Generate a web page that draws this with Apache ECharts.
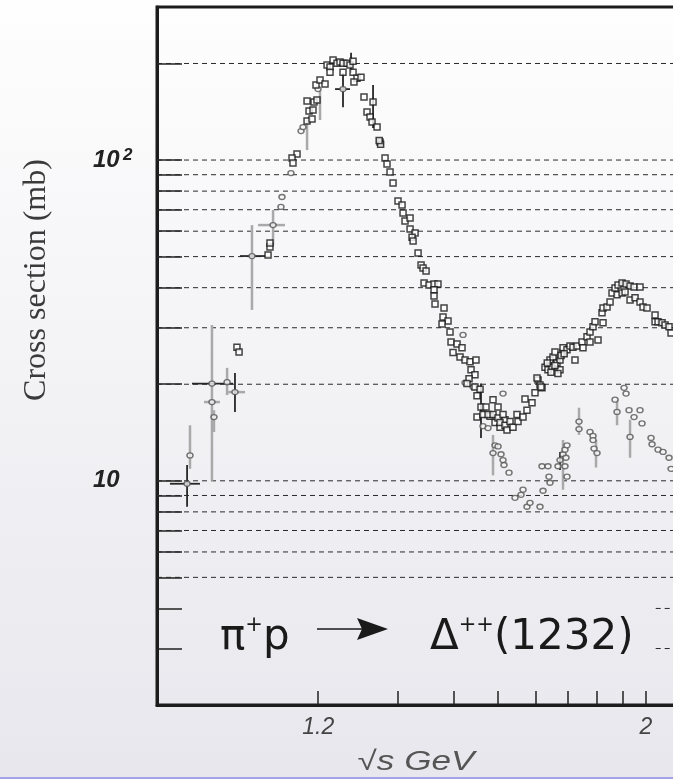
<!DOCTYPE html>
<html>
<head>
<meta charset="utf-8">
<script src="https://cdn.jsdelivr.net/npm/echarts@6/dist/echarts.min.js"></script>
<style>
html,body{margin:0;padding:0;}
#chart{width:673px;height:779px;}
</style>
</head>
<body>
<div id="chart"></div>
<script>
// ---- Axis data ----
// Horizontal axis is log10 of the pion lab momentum p (GeV/c); ticks are labelled in sqrt(s) (GeV)
const X_MIN = 0.1, X_MAX = 2.416;
const Y_MIN = 2, Y_MAX = 300;
const sqrtSTicks = [1.2, 1.3, 1.4, 1.5, 1.6, 1.7, 1.8, 1.9, 2.0];
const sqrtSLabelValues = [1.2, 2.0];
const sqrtSLabelTexts = ['1.2', '2'];
const yTickValues = [3, 4, 5, 6, 7, 8, 9, 10, 20, 30, 40, 50, 60, 70, 80, 90, 100, 200];
const yGridValues = [5, 6, 7, 8, 9, 10, 20, 30, 40, 50, 60, 70, 80, 90, 100, 200];
const yGridPartialValues = [3, 4];
const boxEndP = 1.74;
const yLabelValues = [10, 100];

// ---- Series data: p_lab (GeV/c), cross section (mb) ----
const totalP = [0.1581,0.1600,0.1889,0.1910,0.1910,0.2230,0.2167,0.2179,
0.2362,0.2430,0.2389,0.2444,0.2362,0.2458,0.2500,0.2486,0.2544,0.2618,
0.2649,0.2694,0.2741,0.2804,0.2853,0.2902,0.2970,0.3021,0.3074,0.2694,0.2902,0.3074,
0.3144,0.3217,0.3090,0.3273,0.3447,0.3330,0.3388,0.3427,0.3527,0.3588,0.3600,0.3570,0.3692,0.3734,0.3799,0.3865,0.3977,0.4070,0.4093,0.4140,0.4261,0.4261,0.4385,0.4310,0.4335,0.4461,0.4538,0.4590,0.4670,0.4617,0.4750,0.4888,0.5000,0.4888,0.4888,0.4916,0.5176,0.5146,0.5296,0.5117,0.5357,0.5388,0.5577,0.5738,0.5450,0.5673,0.5838,0.6007,0.6216,0.6042,0.6180,0.5973,0.5904,0.6180,0.6362,0.6252,0.6397,0.6583,0.6252,0.6471,0.6736,0.6853,0.7052,0.6932,0.7133,0.7340,
0.6660,0.6853,0.7052,0.7257,0.7133,0.7340,0.7553,0.7424,0.7684,0.7908,0.7862,0.8137,0.8325,0.8231,0.8567,0.8716,0.8868,0.8969,0.9073,0.8817,0.9021,
0.9230,0.9389,0.9607,0.9497,0.9663,0.9773,0.9886,1.0058,1.0058,1.0232,1.0232,1.0469,1.0651,1.0834,1.0959,1.1086,1.1409,1.1474,1.1741,1.1944,1.1944,1.2152,1.2292,1.2504,1.2868,1.2794,1.2868,1.3166,1.3396,1.3549,1.3785,1.4025,1.4350,1.4683,1.5022,1.5371,1.5906,1.3945,1.4350,1.4599,1.5022,1.5459,1.5906,1.6183,1.6556,1.7335,1.7335,1.7636,1.8044,1.8358,1.8783,1.8999,
0.935,0.955,0.977,0.994,1.012,1.030];
const totalSigma = [26.1,25.2,50.6,53.6,55.1,104.4,101.4,97.9,
132.3,134.2,142.1,143.2,152.7,151.6,153.8,171.3,177.5,172.5,
197.7,194.9,204.9,200.5,202.0,200.5,200.5,197.7,203.4,187.9,187.9,187.9,
180.0,181.3,175.0,157.1,151.6,141.1,136.1,131.3,126.7,113.8,112,115,101.4,97.2,91.8,84.8,74.5,72.4,68.4,64.6,66.0,61.0,59.2,57.5,55.9,51.3,47.1,46.1,45.1,41.4,40.8,41.1,41.1,39.4,37.7,35.6,34.6,32.4,31.5,30.8,29.1,27.1,26.7,26.0,25.1,24.3,23.8,23.5,23.8,22.2,21.4,20.8,20.1,19.6,19.3,18.4,17.0,17.0,15.8,16.1,15.9,17.9,17.0,15.2,14.7,15.5,
16.1,16.1,15.7,16.1,15.2,14.9,15.3,14.4,14.7,15.3,16.1,15.8,16.6,18.0,17.5,18.8,20.6,19.9,19.5,20.9,19.6,
22.6,22.2,22.6,23.8,24.3,25.2,23.3,22.2,23.8,25.1,26.0,25.6,26.3,26.1,23.8,26.3,27.1,26.0,28.1,27.1,29.1,30.2,31.3,27.5,31.1,33.4,34.6,34.8,36.1,38.5,39.9,40.8,41.4,41.1,40.5,40.2,40.2,38.0,38.5,38.8,36.6,37.2,36.1,34.8,34.6,32.9,31.3,31.3,31.1,30.6,30.2,28.9,
23.3,21.8,22.9,21.6,24.6,24.9];

const elasticP = [0.1188,0.1208,0.1370,0.1386,0.1494,0.1370,0.1563,0.1723,0.1944,0.2034,0.2046,0.2154,0.2282,0.2308,0.2515,0.2902,
0.5771,0.5838,0.6112,0.6471,0.6660,0.7257,
0.6932,0.7052,0.6853,0.7174,0.7257,0.7298,0.7510,0.8137,0.8045,0.7773,0.8325,0.8470,0.8969,0.9073,0.9389,0.9443,0.9497,0.9125,0.9943,1.0058,1.0232,1.0349,1.0469,1.0409,1.0349,1.0469,1.1214,1.1214,1.1944,1.2152,1.2152,1.2222,1.2433,1.3785,1.3945,1.4515,1.4683,1.4936,1.5371,1.5906,1.5022,1.6090,1.6941,1.7039,1.7636,1.8148,1.8783,1.8999];
const elasticSigma = [9.79,12.0,20.1,15.8,20.3,17.6,18.9,50.2,62.7,71.4,76.7,91.1,123.1,126.7,166.4,166.4,
28.5,20.2,19.6,14.8,14.6,18.7,
12.9,12.8,12.2,12.1,11.6,11.2,10.6,9.38,9.04,8.85,8.30,8.54,8.30,11.1,11.1,10.3,9.86,9.31,11.1,11.6,12.1,12.5,12.9,11.8,11.1,10.3,15.3,14.5,14.2,13.8,13.4,12.6,12.2,17.9,16.4,19.5,18.7,16.6,15.8,16.6,13.7,15.1,13.6,13.0,12.5,12.3,11.8,10.9];

// error bars
const darkBarP  = [0.1188,0.1563,0.2902,0.3039,0.3447,0.6397,1.0058];
const darkBarLo = [8.30,16.4,146.2,187,125.8,13.6,10.8];
const darkBarHi = [11.2,21.7,186.6,216,171.3,20.1,12.3];
const grayBarP  = [0.1208,0.1370,0.1386,0.1494,0.1723,0.1944,0.2362,0.2544,0.6853,1.0232,1.1214,1.2362,1.3945,1.5022];
const grayBarLo = [10.9,10.0,14.2,18.5,34.1,54.4,107.4,133.3,10.4,9.38,13.9,11.0,14.9,11.8];
const grayBarHi = [14.9,30.6,16.6,22.5,62.7,69.9,133.3,165.2,13.9,13.4,16.9,13.4,17.9,15.5];
const darkHBarSigma = [9.79,20.1,50.2,166.4];
const darkHBarLo = [0.1077,0.1222,0.1609,0.2773];
const darkHBarHi = [0.1279,0.1546,0.1857,0.3021];
const grayHBarSigma = [17.6,18.9,62.7];
const grayHBarLo = [0.1309,0.1503,0.1784];
const grayHBarHi = [0.1434,0.1656,0.2082];

// ---- helpers ----
const M_PI = 0.13957, M_P = 0.93827;
function pLab(w) {
  const s = w * w;
  const E = (s - M_PI * M_PI - M_P * M_P) / (2 * M_P);
  return Math.sqrt(E * E - M_PI * M_PI);
}
const zip = (a, b) => a.map((v, i) => [v, b[i]]);
const zip3 = (a, b, c) => a.map((v, i) => [v, b[i], c[i]]);

function vbar(color, width) {
  return function (params, api) {
    const a = api.coord([api.value(0), api.value(1)]);
    const b = api.coord([api.value(0), api.value(2)]);
    return { type: 'line', shape: { x1: a[0], y1: a[1], x2: b[0], y2: b[1] }, style: { stroke: color, lineWidth: width } };
  };
}
function hbar(color, width) {
  return function (params, api) {
    const a = api.coord([api.value(1), api.value(0)]);
    const b = api.coord([api.value(2), api.value(0)]);
    return { type: 'line', shape: { x1: a[0], y1: a[1], x2: b[0], y2: b[1] }, style: { stroke: color, lineWidth: width } };
  };
}
function gridLine(params, api) {
  const a = api.coord([api.value(0), api.value(2)]);
  const b = api.coord([api.value(1), api.value(2)]);
  return { type: 'line', shape: { x1: a[0], y1: a[1], x2: b[0], y2: b[1] }, style: { stroke: '#2a2a2a', lineWidth: 1, lineDash: [5, 4] } };
}

const gridRows = yGridValues.map(v => [X_MIN, X_MAX, v]).concat(yGridPartialValues.map(v => [boxEndP, X_MAX, v]));

const chart = echarts.init(document.getElementById('chart'), null, { renderer: 'canvas' });
const labelFont = '"Liberation Sans", Arial, sans-serif';

chart.setOption({
  animation: false,
  backgroundColor: { type: 'linear', x: 0, y: 0, x2: 0, y2: 1, colorStops: [{ offset: 0, color: '#fefefe' }, { offset: 1, color: '#e7e7ed' }] },
  grid: { left: 157, top: 7, width: 556, height: 698, outerBoundsMode: 'none', containLabel: false,
          show: true, borderColor: '#1c1c1c', borderWidth: 3, backgroundColor: 'transparent' },
  xAxis: {
    type: 'log', logBase: 10, min: X_MIN, max: X_MAX,
    axisLine: { show: true, lineStyle: { color: '#1c1c1c', width: 3 } },
    axisTick: { show: true, inside: true, length: 14, customValues: sqrtSTicks.map(pLab), lineStyle: { color: '#222', width: 1.5 } },
    axisLabel: {
      show: true, customValues: sqrtSLabelValues.map(pLab), margin: 11,
      fontFamily: labelFont, fontStyle: 'italic', fontSize: 23, color: '#444',
      formatter: function (v) {
        for (let i = 0; i < sqrtSLabelValues.length; i++) {
          if (Math.abs(pLab(sqrtSLabelValues[i]) - v) / v < 1e-3) return sqrtSLabelTexts[i];
        }
        return '';
      }
    },
    splitLine: { show: false }, minorTick: { show: false }
  },
  yAxis: {
    type: 'log', logBase: 10, min: Y_MIN, max: Y_MAX,
    axisLine: { show: true, lineStyle: { color: '#1c1c1c', width: 3 } },
    axisTick: { show: true, inside: true, length: 25, customValues: yTickValues, lineStyle: { color: '#222', width: 1.5 } },
    axisLabel: {
      show: true, customValues: yLabelValues, align: 'left', margin: 64,
      formatter: function (v) { return Math.abs(v - 100) < 1e-6 ? '{b|10} {s|2}' : '{b|10}'; },
      rich: {
        b: { fontFamily: labelFont, fontStyle: 'italic', fontWeight: 'bold', fontSize: 24, color: '#222', lineHeight: 26 },
        s: { fontFamily: labelFont, fontStyle: 'italic', fontWeight: 'bold', fontSize: 17, color: '#222', lineHeight: 15, verticalAlign: 'top' }
      }
    },
    splitLine: { show: false }, minorTick: { show: false }
  },
  series: [
    { type: 'custom', name: 'grid', renderItem: gridLine, data: gridRows, encode: { x: [0, 1], y: 2 }, z: 1, silent: true, clip: true },
    { type: 'custom', name: 'gray-v', renderItem: vbar('#a9a9a9', 2.5), data: zip3(grayBarP, grayBarLo, grayBarHi), encode: { x: 0, y: [1, 2] }, z: 2, silent: true },
    { type: 'custom', name: 'gray-h', renderItem: hbar('#a9a9a9', 2.5), data: zip3(grayHBarSigma, grayHBarLo, grayHBarHi), encode: { x: [1, 2], y: 0 }, z: 2, silent: true },
    { type: 'custom', name: 'dark-v', renderItem: vbar('#262626', 1.8), data: zip3(darkBarP, darkBarLo, darkBarHi), encode: { x: 0, y: [1, 2] }, z: 3, silent: true },
    { type: 'custom', name: 'dark-h', renderItem: hbar('#262626', 1.8), data: zip3(darkHBarSigma, darkHBarLo, darkHBarHi), encode: { x: [1, 2], y: 0 }, z: 3, silent: true },
    { type: 'scatter', name: 'elastic', data: zip(elasticP, elasticSigma), symbol: 'circle', symbolSize: [6, 5],
      itemStyle: { color: '#f6f6f6', borderColor: '#555', borderWidth: 1.4 }, z: 4 },
    { type: 'scatter', name: 'total', data: zip(totalP, totalSigma), symbol: 'rect', symbolSize: 6,
      itemStyle: { color: '#ffffff', borderColor: '#151515', borderWidth: 1.5 }, z: 5 }
  ],
  graphic: [
    { type: 'text', x: 37, y: 280, rotation: Math.PI / 2, z: 10,
      style: { text: 'Cross section (mb)', font: '32px "Liberation Serif", "Times New Roman", serif', fill: '#3a3a3a', textAlign: 'center', textVerticalAlign: 'middle', align: 'center', verticalAlign: 'middle' } },
    { type: 'text', x: 416, y: 762, z: 10, scaleX: 1.3,
      style: { text: '\u221As GeV', font: 'italic 27px "Liberation Sans", Arial, sans-serif', fill: '#555', textAlign: 'center', textVerticalAlign: 'middle', align: 'center', verticalAlign: 'middle' } },
    { type: 'text', x: 220, y: 638, z: 10,
      style: { text: '{a|\u03C0}{s|+}{a|p}', textAlign: 'left', textVerticalAlign: 'middle', align: 'left', verticalAlign: 'middle',
        rich: { a: { fontFamily: '"DejaVu Sans"', fontSize: 42, lineHeight: 46, fill: '#1a1a1a', color: '#1a1a1a' },
                s: { fontFamily: '"DejaVu Sans"', fontSize: 21, lineHeight: 20, verticalAlign: 'top', fill: '#1a1a1a', color: '#1a1a1a' } } } },
    { type: 'text', x: 430, y: 638, z: 10,
      style: { text: '{a|\u0394}{s|++}{a|(1232)}', textAlign: 'left', textVerticalAlign: 'middle', align: 'left', verticalAlign: 'middle',
        rich: { a: { fontFamily: '"DejaVu Sans"', fontSize: 42, lineHeight: 46, fill: '#1a1a1a', color: '#1a1a1a' },
                s: { fontFamily: '"DejaVu Sans"', fontSize: 21, lineHeight: 20, verticalAlign: 'top', fill: '#1a1a1a', color: '#1a1a1a' } } } },
    { type: 'line', z: 10, shape: { x1: 317, y1: 629, x2: 362, y2: 629 }, style: { stroke: '#1a1a1a', lineWidth: 1.5 } },
    { type: 'polygon', z: 10, shape: { points: [[357, 618], [388, 629], [357, 640], [362, 629]] }, style: { fill: '#1a1a1a' } },
    { type: 'rect', z: 10, shape: { x: 0, y: 777, width: 673, height: 2 }, style: { fill: '#a3a3ec' } }
  ]
});
</script>
</body>
</html>
